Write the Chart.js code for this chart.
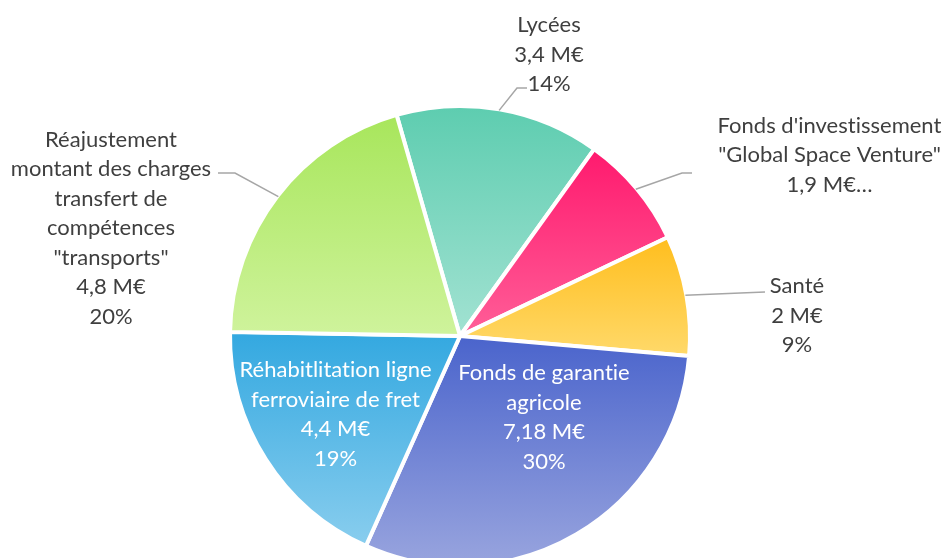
<!DOCTYPE html>
<html>
<head>
<meta charset="utf-8">
<script src="https://cdn.jsdelivr.net/npm/chart.js@4"></script>
<style>
  html, body { margin: 0; padding: 0; background: #ffffff; }
  #wrap { width: 944px; height: 558px; position: relative; }
</style>
</head>
<body>
<div id="wrap"><canvas id="c" width="944" height="558"></canvas></div>
<script>
// ---- DATA ----
const categories = [
  ["Lycées"],
  ["Fonds d'investissement", "\"Global Space Venture\""],
  ["Santé"],
  ["Fonds de garantie", "agricole"],
  ["Réhabitlitation ligne", "ferroviaire de fret"],
  ["Réajustement", "montant des charges", "transfert de", "compétences", "\"transports\""]
];
const valuesMEUR = [3.4, 1.9, 2, 7.18, 4.4, 4.8];
const percentLabels = ["14%", "8%", "9%", "30%", "19%", "20%"];
const labelTruncated = [false, true, false, false, false, false];

// ---- STYLE / LAYOUT ----
const gradTop    = ["#5ecdb0", "#ff1a6e", "#ffbe1e", "#4a64cc", "#33a8e0", "#a8e65c"];
const gradBottom = ["#a2e2d2", "#ff5e98", "#ffd96a", "#98a4de", "#88cdee", "#cff39c"];
const ROT = -16;          // degrees
const R_OUT = 230;        // px (incl. half of white border)
const BORDER = 4;
// label anchors relative to pie centre: x = text centre, y = first baseline
const labelLayout = [
  { dx: 89,     dy: -304,  color: "#3f3f3f", leader: [[57, -248], [67, -248]] },
  { dx: 369.5,  dy: -203.5, color: "#3f3f3f", leader: [[222, -163], [232, -163]] },
  { dx: 337,    dy: -43,   color: "#3f3f3f", leader: [[305, -44]] },
  { dx: 84,     dy: 44,    color: "#ffffff", leader: null },
  { dx: -124.5, dy: 41,    color: "#ffffff", leader: null },
  { dx: -349,   dy: -189.5, color: "#3f3f3f", leader: [[-225, -163], [-242, -163]] }
];
const FONT = "22px Lato";
const LINE_H = 29.5;

function fmtValue(v) {
  return v.toLocaleString('fr-FR') + " M€";
}

function sliceGeom(chart, i) {
  const ca = chart.chartArea;
  const cx = (ca.left + ca.right) / 2, cy = (ca.top + ca.bottom) / 2;
  const total = valuesMEUR.reduce((a, b) => a + b, 0);
  let a0 = -Math.PI / 2 + ROT * Math.PI / 180;
  for (let k = 0; k < i; k++) a0 += 2 * Math.PI * valuesMEUR[k] / total;
  const a1 = a0 + 2 * Math.PI * valuesMEUR[i] / total;
  return { cx, cy, a0, a1 };
}

function sliceGradient(context) {
  const chart = context.chart;
  const i = context.dataIndex;
  if (!chart.chartArea || i === undefined) return gradTop[i || 0];
  const { cx, cy, a0, a1 } = sliceGeom(chart, i);
  const r = R_OUT - BORDER / 2;
  const ys = [cy, cy + r * Math.sin(a0), cy + r * Math.sin(a1)];
  [-Math.PI / 2, Math.PI / 2].forEach(t => {
    for (let m = -2; m <= 2; m++) {
      const tt = t + m * 2 * Math.PI;
      if (tt >= a0 && tt <= a1) ys.push(cy + r * Math.sin(tt));
    }
  });
  const minY = Math.min(...ys), maxY = Math.max(...ys);
  const g = chart.ctx.createLinearGradient(0, minY, 0, maxY);
  g.addColorStop(0, gradTop[i]);
  g.addColorStop(1, gradBottom[i]);
  return g;
}

const labelPlugin = {
  id: 'sliceLabels',
  afterDatasetsDraw(chart) {
    const ctx = chart.ctx;
    const meta = chart.getDatasetMeta(0);
    meta.data.forEach((arc, i) => {
      const p = arc.getProps(['x', 'y', 'startAngle', 'endAngle', 'outerRadius'], true);
      const lay = labelLayout[i];
      if (lay.leader) {
        const mid = (p.startAngle + p.endAngle) / 2;
        const rr = p.outerRadius - BORDER / 2 + 1;
        ctx.save();
        ctx.strokeStyle = "#a6a6a6";
        ctx.lineWidth = 1.5;
        ctx.beginPath();
        ctx.moveTo(p.x + rr * Math.cos(mid), p.y + rr * Math.sin(mid));
        lay.leader.forEach(pt => ctx.lineTo(p.x + pt[0], p.y + pt[1]));
        ctx.stroke();
        ctx.restore();
      }
      const lines = categories[i].slice();
      if (labelTruncated[i]) {
        lines.push(fmtValue(valuesMEUR[i]) + "…");
      } else {
        lines.push(fmtValue(valuesMEUR[i]));
        lines.push(percentLabels[i]);
      }
      ctx.save();
      ctx.font = FONT;
      if ('letterSpacing' in ctx) ctx.letterSpacing = '0.01px'; // disables ligatures
      ctx.fillStyle = lay.color;
      ctx.textAlign = 'center';
      ctx.textBaseline = 'alphabetic';
      lines.forEach((ln, k) => {
        ctx.fillText(ln, p.x + lay.dx, p.y + lay.dy + k * LINE_H);
      });
      ctx.restore();
    });
  }
};

new Chart(document.getElementById('c'), {
  type: 'pie',
  data: {
    labels: categories,
    datasets: [{
      data: valuesMEUR,
      backgroundColor: sliceGradient,
      borderColor: '#ffffff',
      borderWidth: BORDER,
      borderJoinStyle: 'miter'
    }]
  },
  options: {
    responsive: false,
    animation: false,
    rotation: ROT,
    radius: R_OUT,
    layout: { padding: { left: 0, right: 24, top: 114, bottom: 0 } },
    plugins: {
      legend: { display: false },
      tooltip: { enabled: false }
    }
  },
  plugins: [labelPlugin]
});
</script>
</body>
</html>
